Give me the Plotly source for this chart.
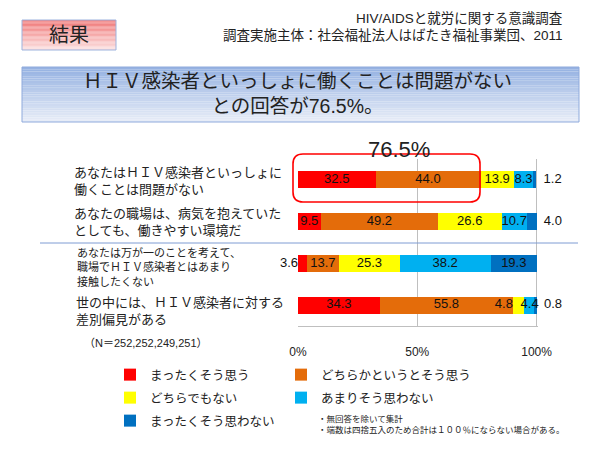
import plotly.graph_objects as go

# 設問と回答の割合（%）
questions = [
    "あなたはＨＩＶ感染者といっしょに<br>働くことは問題がない",
    "あなたの職場は、病気を抱えていた<br>としても、働きやすい環境だ",
    "あなたは万が一のことを考えて、<br>職場でＨＩＶ感染者とはあまり<br>接触したくない",
    "世の中には、ＨＩＶ感染者に対する<br>差別偏見がある",
]
answers = ["まったくそう思う", "どちらかというとそう思う", "どちらでもない",
           "あまりそう思わない", "まったくそう思わない"]
strongly_agree = [32.5, 9.5, 3.6, 34.3]
agree = [44.0, 49.2, 13.7, 55.8]
neutral = [13.9, 26.6, 25.3, 4.8]
disagree = [8.3, 10.7, 38.2, 4.4]
strongly_disagree = [1.2, 4.0, 19.3, 0.8]
x_ticks = [0, 50, 100]
x_tick_labels = ["0%", "50%", "100%"]
n_text = "（N＝252,252,249,251）"
highlight_text = "76.5%"

W, H = 600, 450
ML, MR = 100, 60
FONT = "Liberation Sans, Noto Sans CJK JP"
colors = ["#FF0000", "#E46C0A", "#FFFF00", "#00B0F0", "#0070C0"]
PAD = "\u00a0\u00a0"  # 棒の外に出すラベルのすき間


def px(x):
    return (x - ML) / (W - ML - MR)


def py(y):
    return 1 - y / H


def gradient_box(x0, y0, x1, y1, top, bottom, border, n=24):
    out = []
    for i in range(n):
        t = i / (n - 1)
        c = tuple(round(a + (b - a) * t) for a, b in zip(top, bottom))
        out.append(dict(type="rect", xref="paper", yref="paper",
                        x0=px(x0), x1=px(x1),
                        y0=py(y0 + (y1 - y0) * i / n),
                        y1=py(y0 + (y1 - y0) * (i + 1) / n),
                        fillcolor="rgb(%d,%d,%d)" % c, line_width=0))
    out.append(dict(type="rect", xref="paper", yref="paper",
                    x0=px(x0), x1=px(x1), y0=py(y0), y1=py(y1),
                    line=dict(color=border, width=1)))
    return out


series = [strongly_agree, agree, neutral, disagree, strongly_disagree]
legend_of = ["legend", "legend", "legend2", "legend2", "legend3"]
legend_w = [126, 170, 126, 170, 126]

fig = go.Figure()
for name, vals, col, lg, lw in zip(answers, series, colors, legend_of, legend_w):
    fig.add_trace(go.Bar(
        y=questions, x=vals, name=name, orientation="h",
        marker=dict(color=col, line_width=0),
        legend=lg, legendwidth=lw,
    ))

# 数値ラベル（棒の上に重ねて描く）
lab_x, lab_y, lab_t, lab_p = [], [], [], []
last = len(series) - 1
for i, q in enumerate(questions):
    start = 0
    for k, vals in enumerate(series):
        v = vals[i]
        t = f"{v:.1f}"
        if k == last and v < 5:
            lab_x.append(start + v); lab_p.append("middle right"); t = PAD + t
        elif k == 0 and v < 5:
            lab_x.append(start); lab_p.append("middle left")
        elif v < 5 and k + 1 < last and series[k + 1][i] < 5:
            lab_x.append(start); lab_p.append("middle left")
        else:
            lab_x.append(start + v / 2); lab_p.append("middle center")
        lab_y.append(q)
        lab_t.append(t)
        start += v

fig.add_trace(go.Scatter(
    x=lab_x, y=lab_y, text=lab_t, textposition=lab_p, mode="text",
    textfont=dict(size=13, color="#111"), showlegend=False,
    hoverinfo="skip", cliponaxis=False,
))

shapes = []
shapes += gradient_box(22, 67, 579, 122, (150, 178, 226), (230, 236, 247), "#8FAADC")
shapes += gradient_box(22, 20, 116, 50, (240, 120, 120), (251, 222, 222), "#9DB3DE")
shapes.append(dict(type="line", xref="paper", yref="paper",
                   x0=px(40), x1=px(578), y0=py(243), y1=py(243),
                   line=dict(color="#7F9CD3", width=1)))

# 角丸の赤枠（76.5% の部分）
x0, x1, y0, y1, r = px(293), px(480), py(154), py(202), 10
rx, ry = r / (W - ML - MR), r / H
path = (f"M{x0+rx},{y0} L{x1-rx},{y0} Q{x1},{y0} {x1},{y0-ry} "
        f"L{x1},{y1+ry} Q{x1},{y1} {x1-rx},{y1} L{x0+rx},{y1} "
        f"Q{x0},{y1} {x0},{y1+ry} L{x0},{y0-ry} Q{x0},{y0} {x0+rx},{y0} Z")
shapes.append(dict(type="path", xref="paper", yref="paper", path=path,
                   line=dict(color="#FF0000", width=1.6)))

annotations = []
label_x = [72, 72, 75, 74]
label_size = [13, 13, 11, 13]
label_shift = [-1, 0, -4, -6]
for q, lx, sz, sh in zip(questions, label_x, label_size, label_shift):
    annotations.append(dict(x=px(lx), xref="paper", xanchor="left", y=q, yref="y",
                            yshift=sh, text=q, align="left", showarrow=False,
                            font=dict(size=sz, color="#222")))


def note(text, x, y, size, xanchor="left", align="left"):
    annotations.append(dict(x=px(x), y=py(y), xref="paper", yref="paper",
                            xanchor=xanchor, yanchor="middle", text=text,
                            align=align, showarrow=False,
                            font=dict(size=size, color="#222")))


note(n_text, 82, 343, 11)
note(highlight_text, 399, 149, 22, "center", "center")
note("HIV/AIDSと就労に関する意識調査", 565, 18, 13.5, "right", "right")
note("調査実施主体：社会福祉法人はばたき福祉事業団、2011", 565, 36, 13.5, "right", "right")
note("結果", 69, 35, 20, "center", "center")
note("ＨＩＶ感染者といっしょに働くことは問題がない<br>との回答が" + highlight_text + "。",
     297, 93, 19.5, "center", "center")
note("・無回答を除いて集計<br>・端数は四捨五入のため合計は１００％にならない場合がある。",
     316, 424, 8.5)

legend_style = dict(orientation="h", x=px(110), xanchor="left", yanchor="middle",
                    bgcolor="rgba(0,0,0,0)",
                    font=dict(size=12.5, color="#222"), traceorder="normal")

fig.update_layout(
    width=W, height=H,
    margin=dict(l=ML, r=MR, t=0, b=0),
    paper_bgcolor="white", plot_bgcolor="white",
    font=dict(family=FONT, color="#222"),
    barmode="stack", bargap=0.59,
    xaxis=dict(domain=[px(298), px(538)], range=[0, 100.6],
               tickvals=x_ticks, ticktext=x_tick_labels,
               showgrid=True, gridcolor="#BFBFBF", zeroline=False,
               showline=True, linecolor="#BFBFBF",
               ticklabelstandoff=15, tickfont=dict(size=12)),
    yaxis=dict(domain=[py(326), py(159)], autorange="reversed",
               showticklabels=False, showgrid=False, zeroline=False),
    legend=dict(legend_style, y=py(375)),
    legend2=dict(legend_style, y=py(398)),
    legend3=dict(legend_style, y=py(421)),
    shapes=shapes, annotations=annotations,
)

fig.write_html("out.html", config={"displayModeBar": False},
               post_script="document.body.style.margin='0';")
